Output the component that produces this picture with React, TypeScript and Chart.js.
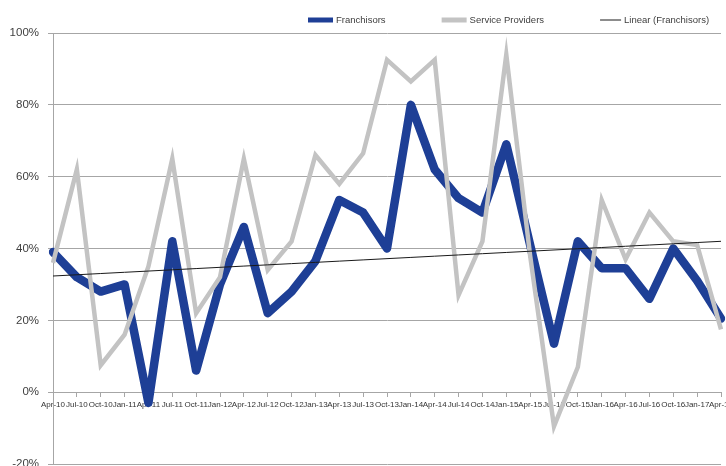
import React, { useEffect, useRef } from "react";
import { Chart, registerables } from "chart.js";

Chart.register(...registerables);

const categories = [
  "Apr-10", "Jul-10", "Oct-10", "Jan-11", "Apr-11", "Jul-11", "Oct-11", "Jan-12",
  "Apr-12", "Jul-12", "Oct-12", "Jan-13", "Apr-13", "Jul-13", "Oct-13", "Jan-14",
  "Apr-14", "Jul-14", "Oct-14", "Jan-15", "Apr-15", "Jul-15", "Oct-15", "Jan-16",
  "Apr-16", "Jul-16", "Oct-16", "Jan-17", "Apr-17",
];

const franchisors = [
  39, 32, 28, 30, -3, 42, 6, 30, 46, 22, 28, 36.5, 53.5, 50, 40, 80, 62, 54, 50, 69,
  41, 13.5, 42, 34.5, 34.5, 26, 40, 31, 20.5,
];

const serviceProviders = [
  36, 62, 7.5, 16, 35, 65, 22, 32, 65, 34, 42, 66, 58, 66.5, 92.5, 86.5, 92.5, 27, 42,
  94, 38, -9.5, 7, 53.5, 37, 50, 42, 41, 17.5,
];

const yTicks = [-20, 0, 20, 40, 60, 80, 100];

const seriesNames = ["Franchisors", "Service Providers", "Linear (Franchisors)"];

function linearTrend(values: number[]): number[] {
  const n = values.length;
  let sx = 0, sy = 0, sxx = 0, sxy = 0;
  values.forEach((v, i) => {
    sx += i; sy += v; sxx += i * i; sxy += i * v;
  });
  const slope = (n * sxy - sx * sy) / (n * sxx - sx * sx);
  const intercept = (sy - slope * sx) / n;
  return values.map((_, i) => intercept + slope * i);
}

const FONT = "'Liberation Sans', Arial, sans-serif";

const legendPlugin = {
  id: "customLegend",
  afterDraw(chart: any) {
    const ctx = chart.ctx;
    ctx.save();
    ctx.font = `9.5px ${FONT}`;
    ctx.textBaseline = "middle";
    ctx.fillStyle = "#404040";
    const y = 20;
    let x = 308;
    chart.data.datasets.forEach((ds: any) => {
      const sw = ds.borderWidth > 2 ? 25 : 21;
      ctx.beginPath();
      ctx.strokeStyle = ds.borderColor;
      ctx.lineWidth = ds.borderWidth > 2 ? 5 : 1;
      ctx.lineCap = "butt";
      ctx.moveTo(x, y);
      ctx.lineTo(x + sw, y);
      ctx.stroke();
      const tx = x + sw + 3;
      ctx.fillText(ds.label, tx, y);
      x = tx + ctx.measureText(ds.label).width + 56;
    });
    ctx.restore();
  },
};

export default function App() {
  const ref = useRef<HTMLCanvasElement | null>(null);

  useEffect(() => {
    if (!ref.current) return;
    const trend = linearTrend(franchisors);
    const chart = new Chart(ref.current, {
      type: "line",
      data: {
        labels: categories,
        datasets: [
          {
            label: seriesNames[0],
            data: franchisors,
            borderColor: "#1E3F96",
            backgroundColor: "#1E3F96",
            borderWidth: 8.5,
            pointRadius: 0,
            borderJoinStyle: "round",
            borderCapStyle: "round",
            tension: 0,
            order: 3,
          },
          {
            label: seriesNames[1],
            data: serviceProviders,
            borderColor: "#C3C3C3",
            backgroundColor: "#C3C3C3",
            borderWidth: 4.5,
            pointRadius: 0,
            borderJoinStyle: "miter",
            tension: 0,
            order: 2,
          },
          {
            label: seriesNames[2],
            data: trend,
            borderColor: "#1a1a1a",
            backgroundColor: "#1a1a1a",
            borderWidth: 1,
            pointRadius: 0,
            tension: 0,
            order: 1,
          },
        ],
      },
      options: {
        responsive: false,
        animation: false,
        layout: { padding: { left: 0, right: 5, top: 33, bottom: 2 } },
        plugins: {
          legend: { display: false },
          tooltip: { enabled: false },
        },
        scales: {
          x: {
            type: "category",
            position: { y: 0 },
            offset: false,
            grid: {
              display: true,
              drawOnChartArea: false,
              drawTicks: true,
              tickLength: 4,
              color: "#a6a6a6",
            },
            border: { display: true, color: "#a6a6a6", width: 1 },
            ticks: {
              autoSkip: false,
              maxRotation: 0,
              minRotation: 0,
              padding: 4,
              color: "#333333",
              font: { family: FONT, size: 8 },
            },
            afterFit: (s: any) => {
              s.paddingLeft = 0;
              s.paddingRight = 0;
            },
          },
          y: {
            min: -20,
            max: 100,
            afterBuildTicks: (s: any) => {
              s.ticks = yTicks.map((v) => ({ value: v }));
            },
            ticks: {
              callback: (v: any) => `${v}%`,
              color: "#404040",
              padding: 9,
              font: { family: FONT, size: 11.5 },
            },
            grid: {
              color: "#a6a6a6",
              tickLength: 5,
              drawTicks: true,
            },
            border: { display: true, color: "#a6a6a6" },
            afterFit: (s: any) => {
              s.width = 53;
              s.paddingTop = 0;
              s.paddingBottom = 0;
            },
          },
        },
      },
      plugins: [legendPlugin],
    } as any);
    return () => chart.destroy();
  }, []);

  return (
    <div style={{ position: "fixed", left: 0, top: 0, width: 726, height: 466, background: "#fff" }}>
      <canvas ref={ref} width={726} height={466} style={{ display: "block" }} />
    </div>
  );
}
